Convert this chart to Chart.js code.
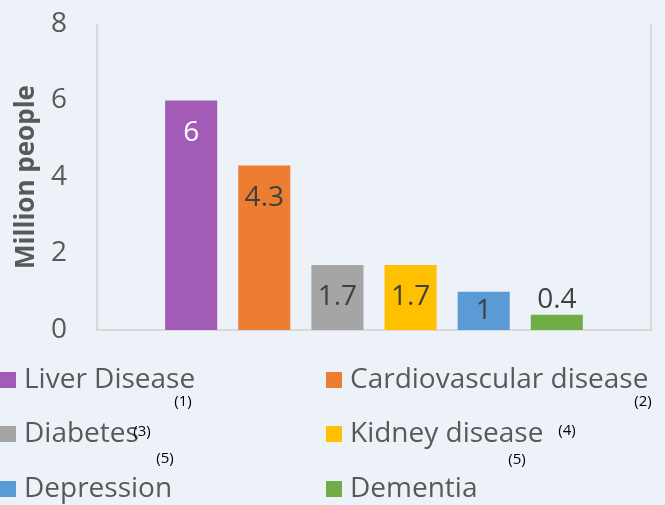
<!DOCTYPE html>
<html>
<head>
<meta charset="utf-8">
<script src="https://cdn.jsdelivr.net/npm/chart.js@4.4.0/dist/chart.umd.min.js"></script>
<style>
  html, body { margin: 0; padding: 0; background: #EDF1F8; }
  #wrap { width: 665px; height: 505px; position: relative; }
</style>
</head>
<body>
<div id="wrap"><canvas id="chart" width="665" height="505"></canvas></div>
<script>
// Dati del grafico
const categories = ['Liver Disease', 'Cardiovascular disease', 'Diabetes', 'Kidney disease', 'Depression', 'Dementia'];
const values = [6, 4.3, 1.7, 1.7, 1, 0.4];
const colors = ['#A25BB7', '#ED7D31', '#A5A5A5', '#FFC000', '#5B9BD5', '#70AD47'];
const notes = ['(1)', '(2)', '(3)', '(4)', '(5)', '(5)'];
const yTicks = [0, 2, 4, 6, 8];

const FONT = '"Open Sans", "Noto Sans", sans-serif';
const TEXT = '#595959';

// cornice del grafico (sinistra, destra, basso)
const framePlugin = {
    id: 'frame',
    beforeDatasetsDraw(chart) {
        const { ctx, chartArea: a } = chart;
        ctx.save();
        ctx.strokeStyle = '#D9D9D9';
        ctx.lineWidth = 2;
        ctx.beginPath();
        ctx.moveTo(a.left, a.top);
        ctx.lineTo(a.left, a.bottom);
        ctx.lineTo(a.right, a.bottom);
        ctx.lineTo(a.right, a.top);
        ctx.stroke();
        ctx.restore();
    }
};

// etichette dei valori
const labelPlugin = {
    id: 'barLabels',
    afterDatasetsDraw(chart) {
        const { ctx } = chart;
        ctx.save();
        ctx.font = '28px ' + FONT;
        ctx.textAlign = 'center';
        ctx.textBaseline = 'middle';
        chart.data.datasets.forEach((ds, i) => {
            const bar = chart.getDatasetMeta(i).data[0];
            const h = bar.base - bar.y;
            let y;
            if (h < 30) {
                y = bar.y - 15;
                ctx.fillStyle = '#404040';
            } else {
                y = Math.min(bar.y + 33, (bar.y + bar.base) / 2);
                ctx.fillStyle = i === 0 ? '#FFFFFF' : '#404040';
            }
            ctx.fillText(String(ds.data[0]), bar.x, y);
        });
        ctx.restore();
    }
};

// legenda su due colonne con le note
const legendPlugin = {
    id: 'customLegend',
    afterDraw(chart) {
        const { ctx } = chart;
        const colX = [0, 326];
        const rowY = [380, 434, 489];
        ctx.save();
        ctx.textBaseline = 'middle';
        ctx.textAlign = 'left';
        chart.data.datasets.forEach((ds, i) => {
            const x = colX[i % 2];
            const y = rowY[Math.floor(i / 2)];
            ctx.fillStyle = ds.backgroundColor;
            ctx.fillRect(x, y - 8, 16, 16);
            ctx.fillStyle = TEXT;
            ctx.font = '28px ' + FONT;
            ctx.fillText(ds.label, x + 24, y);
        });
        // note a piccoli caratteri
        const notePos = [[183, 402], [643, 402], [142, 432], [567, 431], [165, 459], [517, 460]];
        ctx.fillStyle = '#000000';
        ctx.font = '15px ' + FONT;
        ctx.textAlign = 'center';
        notes.forEach((n, i) => ctx.fillText(n, notePos[i][0], notePos[i][1]));
        ctx.restore();
    }
};

const ctx = document.getElementById('chart').getContext('2d');
new Chart(ctx, {
    type: 'bar',
    data: {
        labels: [''],
        datasets: categories.map((c, i) => ({
            label: c,
            data: [values[i]],
            backgroundColor: colors[i],
            categoryPercentage: 0.792,
            barPercentage: 0.712
        }))
    },
    options: {
        responsive: false,
        animation: false,
        layout: { padding: { top: 24, right: 14, bottom: 175, left: 0 } },
        plugins: {
            legend: { display: false },
            tooltip: { enabled: false }
        },
        scales: {
            x: {
                display: false
            },
            y: {
                min: 0,
                max: 8,
                afterBuildTicks(scale) {
                    scale.ticks = yTicks.map(v => ({ value: v }));
                },
                afterFit(scale) {
                    scale.width = 97;
                    scale.paddingTop = 0;
                    scale.paddingBottom = 0;
                },
                grid: { display: false, drawTicks: false },
                border: { display: false },
                ticks: {
                    padding: 30,
                    color: TEXT,
                    font: { family: FONT, size: 28 }
                },
                title: {
                    display: true,
                    text: 'Million people',
                    color: TEXT,
                    padding: { top: 11 },
                    font: { family: FONT, size: 26, weight: 'bold' }
                }
            }
        }
    },
    plugins: [framePlugin, labelPlugin, legendPlugin]
});
</script>
</body>
</html>
